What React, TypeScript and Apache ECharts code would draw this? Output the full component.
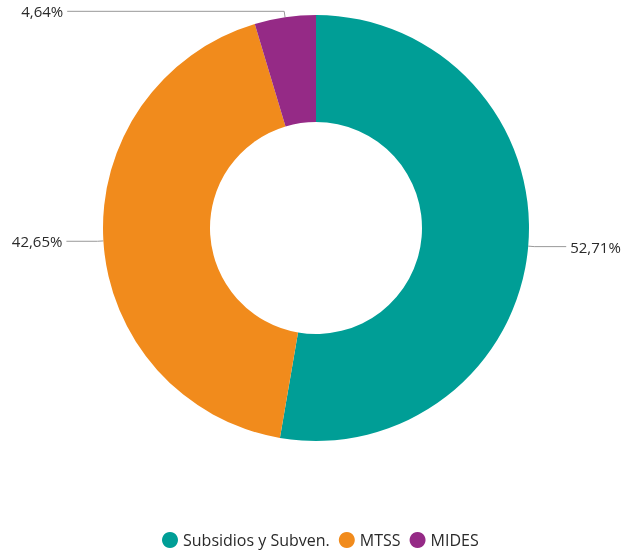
import React, { useEffect, useRef } from "react";
import * as echarts from "echarts";

const categories = ["Subsidios y Subven.", "MTSS", "MIDES"];
const values = [52.71, 42.65, 4.64];
const labels = ["52,71%", "42,65%", "4,64%"];
const colors = ["#009E96", "#F18B1C", "#952A86"];
const lineLengths = [
  [6, 32],
  [6, 31],
  [6, 217],
];

export default function App() {
  const ref = useRef<HTMLDivElement>(null);
  useEffect(() => {
    if (!ref.current) return;
    const chart = echarts.init(ref.current, null, { renderer: "svg" });
    chart.setOption({
      animation: false,
      color: colors,
      textStyle: { fontFamily: "Open Sans" },
      legend: {
        bottom: 0,
        left: 157,
        icon: "circle",
        itemWidth: 16,
        itemHeight: 16,
        itemGap: 9,
        textStyle: { fontSize: 16, color: "#2a2a2a", fontFamily: "Open Sans" },
        data: categories,
      },
      series: [
        {
          type: "pie",
          center: [316, 228],
          radius: [106, 213],
          startAngle: 90,
          clockwise: true,
          avoidLabelOverlap: false,
          label: {
            show: true,
            position: "outside",
            fontSize: 15,
            color: "#2a2a2a",
            fontFamily: "Open Sans",
            distanceToLabelLine: 4,
          },
          labelLine: {
            show: true,
            lineStyle: { color: "#999", width: 1 },
          },
          data: categories.map((name, i) => ({
            name,
            value: values[i],
            label: { formatter: labels[i] },
            labelLine: { length: lineLengths[i][0], length2: lineLengths[i][1] },
          })),
        },
      ],
    });
    return () => chart.dispose();
  }, []);
  return (
    <div
      ref={ref}
      style={{ position: "fixed", left: 0, top: 0, width: 623, height: 553 }}
    />
  );
}
